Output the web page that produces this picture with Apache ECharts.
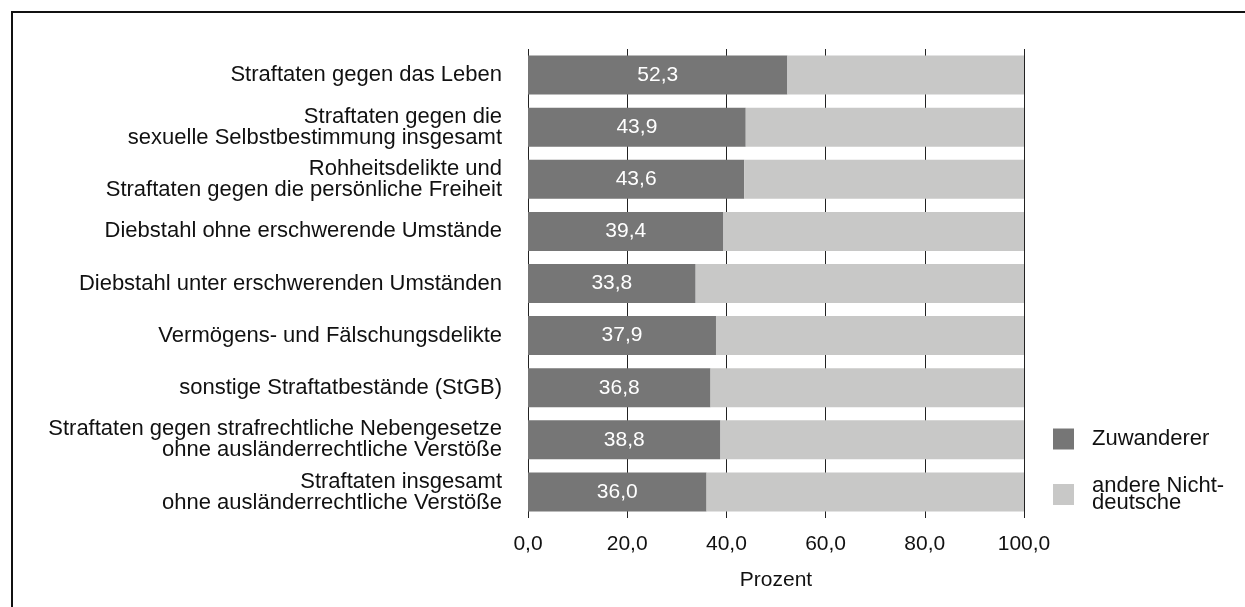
<!DOCTYPE html>
<html>
<head>
<meta charset="utf-8">
<script src="https://cdn.jsdelivr.net/npm/echarts@6/dist/echarts.min.js"></script>
<style>
  html, body { margin: 0; padding: 0; background: #fff; }
  #chart { width: 1245px; height: 607px; }
</style>
</head>
<body>
<div id="chart"></div>
<script>
// Kategorien (von oben nach unten)
var categories = [
    'Straftaten gegen das Leben',
    'Straftaten gegen die\nsexuelle Selbstbestimmung insgesamt',
    'Rohheitsdelikte und\nStraftaten gegen die persönliche Freiheit',
    'Diebstahl ohne erschwerende Umstände',
    'Diebstahl unter erschwerenden Umständen',
    'Vermögens- und Fälschungsdelikte',
    'sonstige Straftatbestände (StGB)',
    'Straftaten gegen strafrechtliche Nebengesetze\nohne ausländerrechtliche Verstöße',
    'Straftaten insgesamt\nohne ausländerrechtliche Verstöße'
];
// Anteil Zuwanderer in Prozent
var zuwanderer = [52.3, 43.9, 43.6, 39.4, 33.8, 37.9, 36.8, 38.8, 36.0];
// Anteil andere Nichtdeutsche in Prozent
var andere = [47.7, 56.1, 56.4, 60.6, 66.2, 62.1, 63.2, 61.2, 64.0];
var xTicks = [0, 20, 40, 60, 80, 100];

var fontFamily = '"Liberation Sans", Arial, sans-serif';

function fmt(v) {
    return v.toFixed(1).replace('.', ',');
}

var chart = echarts.init(document.getElementById('chart'));

var option = {
    animation: false,
    textStyle: { fontFamily: fontFamily },
    graphic: [
        {
            type: 'rect',
            shape: { x: 12, y: 12, width: 1260, height: 620 },
            style: { fill: 'none', stroke: '#111', lineWidth: 2 },
            silent: true
        }
    ],
    grid: {
        left: 528,
        width: 496,
        top: 49,
        height: 469
    },
    legend: {
        orient: 'vertical',
        left: 1053,
        top: 428,
        padding: 0,
        itemWidth: 21,
        itemHeight: 21,
        itemGap: 25,
        icon: 'rect',
        textStyle: {
            fontSize: 22,
            color: '#111',
            lineHeight: 17,
            padding: [0, 0, 0, 13],
            fontFamily: fontFamily
        },
        data: ['Zuwanderer', 'andere Nicht-\ndeutsche']
    },
    xAxis: {
        type: 'value',
        min: xTicks[0],
        max: xTicks[xTicks.length - 1],
        interval: 20,
        name: 'Prozent',
        nameLocation: 'middle',
        nameGap: 52,
        nameTextStyle: { fontSize: 21, color: '#111' },
        axisLine: { show: false },
        axisTick: { show: false },
        splitLine: { show: true, lineStyle: { color: '#222', width: 1 } },
        axisLabel: {
            fontSize: 21,
            color: '#111',
            margin: 16,
            formatter: function (v) { return fmt(v); }
        }
    },
    yAxis: {
        type: 'category',
        inverse: true,
        data: categories,
        axisLine: { show: false },
        axisTick: { show: false },
        axisLabel: {
            fontSize: 22,
            color: '#111',
            margin: 26,
            lineHeight: 21,
            align: 'right'
        }
    },
    series: [
        {
            name: 'Zuwanderer',
            type: 'bar',
            stack: 'gesamt',
            barWidth: 39,
            itemStyle: { color: '#767676' },
            label: {
                show: true,
                position: 'inside',
                color: '#fff',
                fontSize: 21,
                formatter: function (p) { return fmt(p.value); }
            },
            data: zuwanderer
        },
        {
            name: 'andere Nicht-\ndeutsche',
            type: 'bar',
            stack: 'gesamt',
            barWidth: 39,
            itemStyle: { color: '#c8c8c7' },
            data: andere
        }
    ]
};

chart.setOption(option);
</script>
</body>
</html>
